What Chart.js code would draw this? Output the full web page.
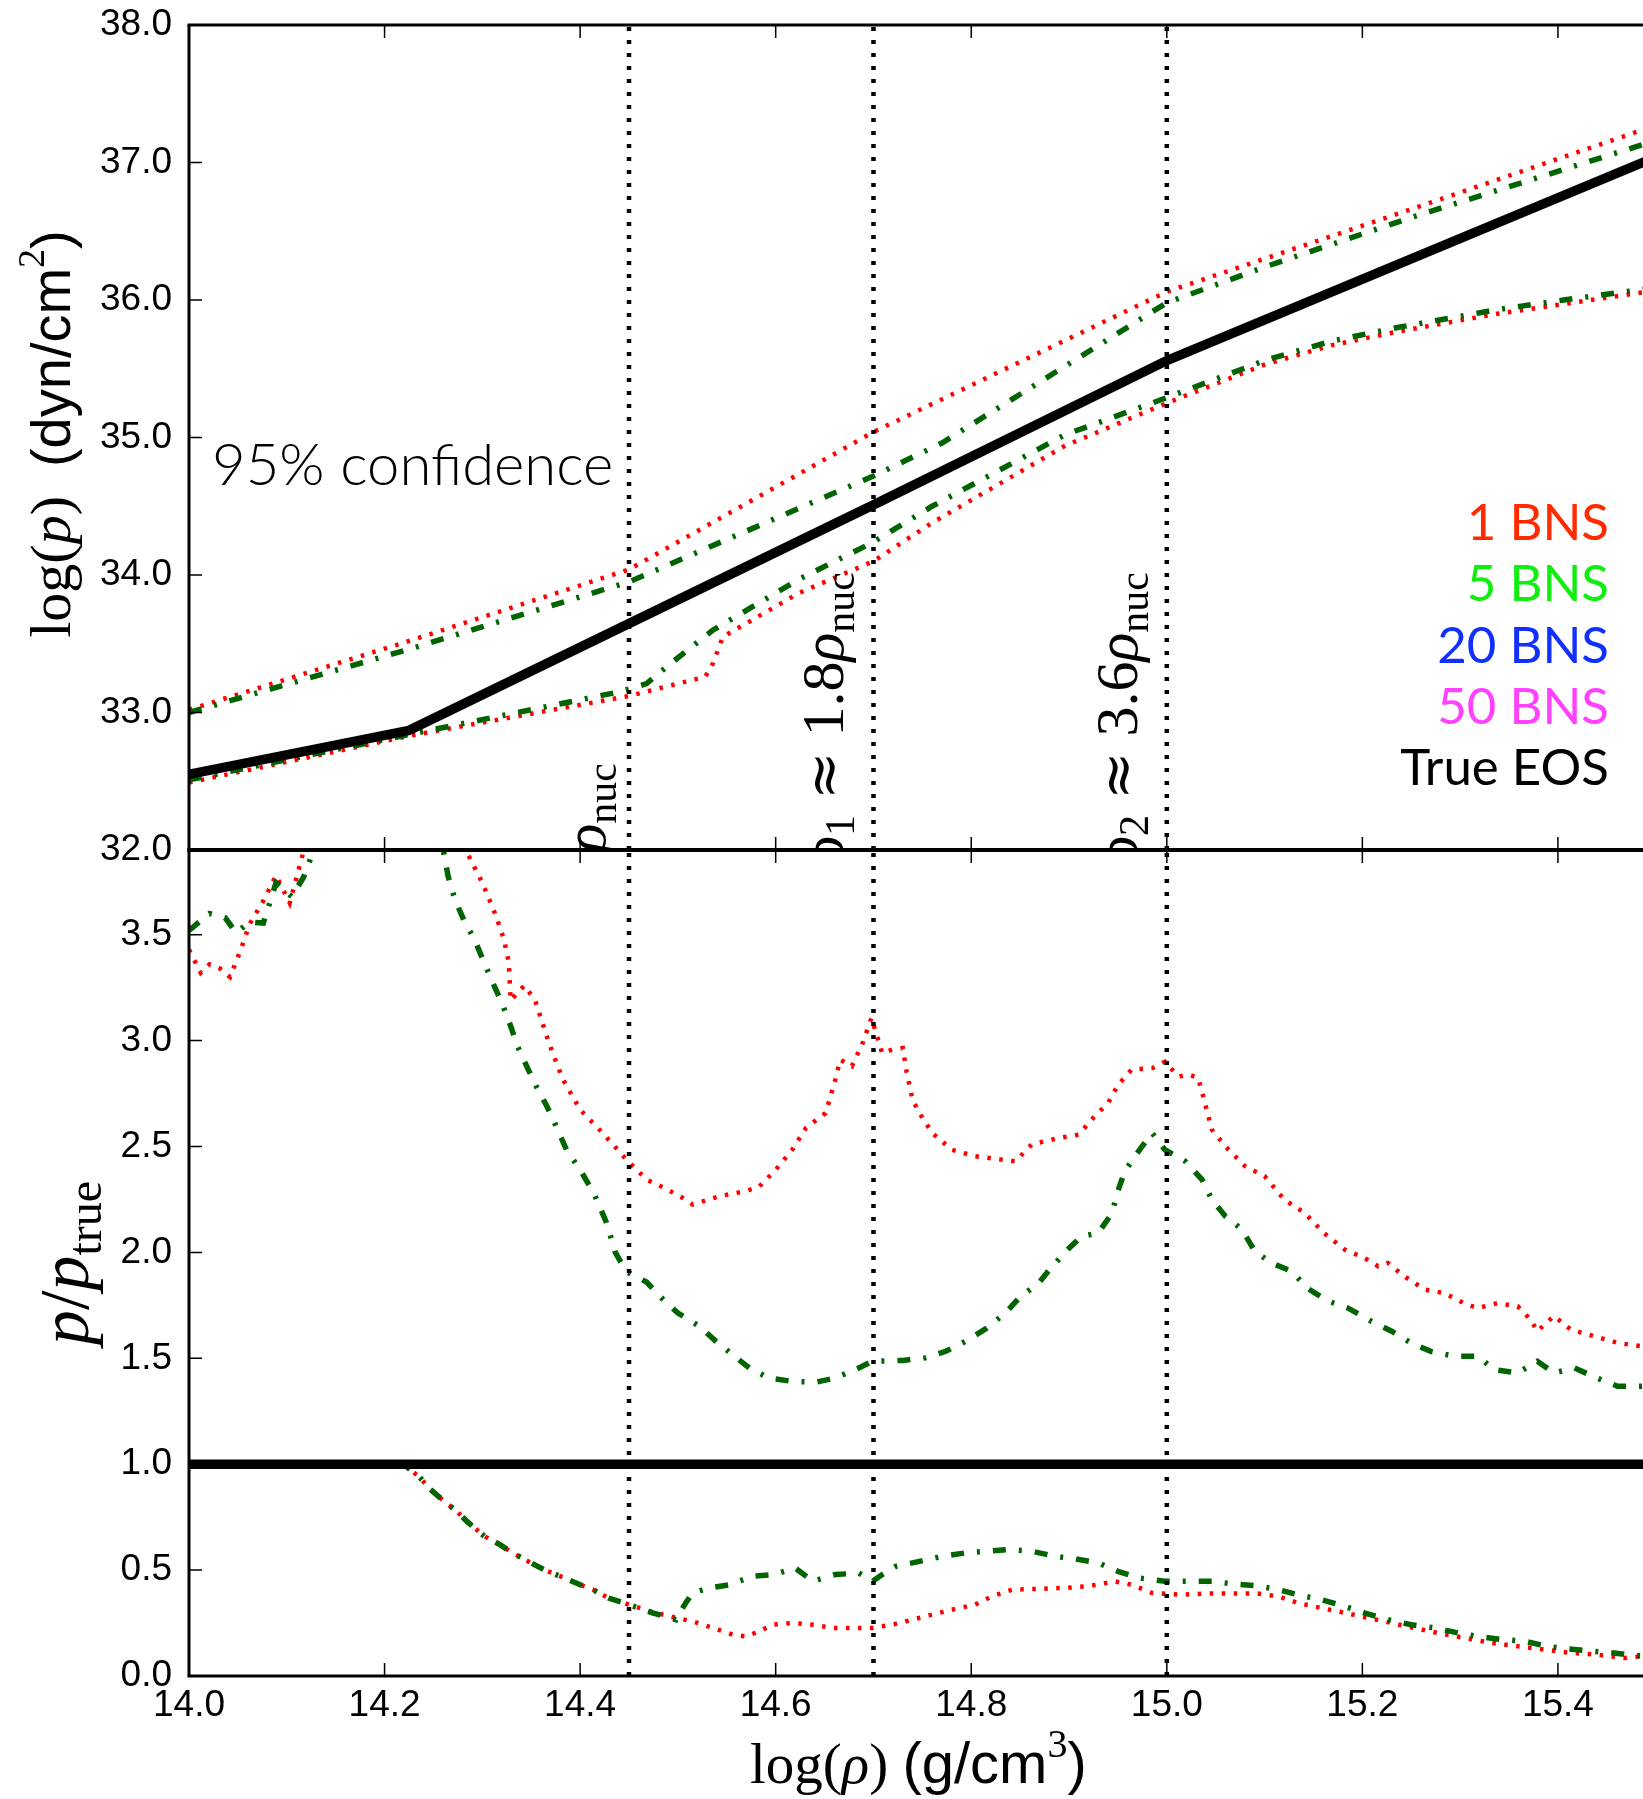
<!DOCTYPE html>
<html>
<head>
<meta charset="utf-8">
<script src="https://cdn.jsdelivr.net/npm/chart.js@4.4.1/dist/chart.umd.min.js"></script>
<style>
  html, body { margin: 0; padding: 0; background: #fff; overflow: hidden; }
  #wrap { position: relative; width: 1643px; height: 1799px; }
  #wrap canvas { position: absolute; left: 0; top: 0; }
</style>
</head>
<body>
<div id="wrap">
  <canvas id="ratioChart" width="1643" height="1799"></canvas>
  <canvas id="eosChart" width="1643" height="1799"></canvas>
</div>
<script>
// ── Axes ─────────────────────────────────────────────────────────────────────
const X_MIN = 14.0, X_MAX = 15.487;
const X_TICKS     = [14.0, 14.2, 14.4, 14.6, 14.8, 15.0, 15.2, 15.4];
const Y_TOP_MIN = 32, Y_TOP_MAX = 38;
const Y_TICKS_TOP = [32, 33, 34, 35, 36, 37, 38];
const Y_BOT_MIN = 0, Y_BOT_MAX = 3.9;
const Y_TICKS_BOT = [0, 0.5, 1.0, 1.5, 2.0, 2.5, 3.0, 3.5];
const VLINE_RHO   = [14.45, 14.7, 15.0];   // rho_nuc, rho_1, rho_2

// ── Top panel: log(p) ────────────────────────────────────────────────────────
const RHO_EOS  = [14.0, 14.225, 14.7, 15.0, 15.5];
const LOGP_EOS = [32.55, 32.87, 34.51, 35.56, 37.04];

const RHO_HI_1  = [14.0, 14.225, 14.45, 14.7, 15.0, 15.25, 15.5];
const LOGP_HI_1 = [33.02, 33.52, 34.04, 35.04, 36.06, 36.66, 37.27];

const RHO_HI_5  = [14.0, 14.225, 14.45, 14.7, 14.77, 15.0, 15.1, 15.25, 15.5];
const LOGP_HI_5 = [33.0, 33.46, 33.95, 34.72, 34.96, 35.98, 36.24, 36.6, 37.16];

const RHO_LO_1  = [14.0, 14.225, 14.45, 14.528, 14.536, 14.546, 14.624, 14.7, 14.76, 14.828, 14.896, 15.0, 15.1, 15.168, 15.236, 15.338, 15.406, 15.5];
const LOGP_LO_1 = [32.49, 32.83, 33.12, 33.26, 33.36, 33.55, 33.87, 34.1, 34.38, 34.66, 34.94, 35.25, 35.53, 35.67, 35.77, 35.9, 35.97, 36.07];

const RHO_LO_5  = [14.0, 14.225, 14.44, 14.468, 14.488, 14.536, 14.624, 14.7, 14.76, 14.828, 14.896, 15.0, 15.1, 15.168, 15.236, 15.338, 15.406, 15.5];
const LOGP_LO_5 = [32.51, 32.84, 33.15, 33.21, 33.33, 33.6, 33.97, 34.24, 34.5, 34.76, 35.02, 35.29, 35.56, 35.7, 35.8, 35.93, 36.0, 36.09];

// ── Bottom panel: p / p_true ─────────────────────────────────────────────────
const RHO_TRUE   = [14.0, 15.5];
const RATIO_TRUE = [1.0, 1.0];

const RHO_R_HI_1 = [14.0, 14.012, 14.021, 14.032, 14.042, 14.053, 14.062, 14.076, 14.089, 14.103, 14.11, 14.117, 14.13, 14.27, 14.283, 14.3, 14.313, 14.322, 14.327, 14.329, 14.343, 14.354, 14.368, 14.382, 14.4, 14.423, 14.447, 14.468, 14.488, 14.505, 14.515, 14.542, 14.57, 14.583, 14.6, 14.617, 14.631, 14.651, 14.655, 14.661, 14.666, 14.678, 14.689, 14.698, 14.709, 14.719, 14.73, 14.734, 14.74, 14.747, 14.76, 14.78, 14.804, 14.828, 14.845, 14.862, 14.889, 14.91, 14.923, 14.94, 14.95, 14.964, 14.985, 14.998, 15.012, 15.022, 15.032, 15.039, 15.046, 15.06, 15.08, 15.1, 15.12, 15.141, 15.161, 15.182, 15.202, 15.216, 15.226, 15.243, 15.264, 15.284, 15.304, 15.318, 15.338, 15.359, 15.372, 15.379, 15.396, 15.413, 15.44, 15.462, 15.485, 15.5];
const RATIO_HI_1 = [3.43, 3.32, 3.36, 3.34, 3.30, 3.43, 3.55, 3.66, 3.78, 3.65, 3.77, 3.89, 4.1, 4.1, 3.9, 3.745, 3.6, 3.48, 3.37, 3.19, 3.26, 3.19, 2.99, 2.82, 2.674, 2.564, 2.44, 2.344, 2.3, 2.257, 2.226, 2.265, 2.29, 2.31, 2.39, 2.485, 2.588, 2.658, 2.72, 2.816, 2.91, 2.88, 2.989, 3.107, 2.94, 2.957, 2.965, 2.85, 2.72, 2.658, 2.564, 2.485, 2.454, 2.44, 2.43, 2.51, 2.54, 2.556, 2.627, 2.706, 2.79, 2.863, 2.87, 2.9, 2.83, 2.84, 2.824, 2.706, 2.58, 2.5, 2.407, 2.36, 2.25, 2.186, 2.09, 2.013, 1.974, 1.935, 1.95, 1.887, 1.824, 1.808, 1.76, 1.737, 1.76, 1.745, 1.683, 1.628, 1.7, 1.636, 1.6, 1.572, 1.557, 1.55];

const RHO_R_HI_5 = [14.0, 14.021, 14.037, 14.048, 14.062, 14.076, 14.089, 14.105, 14.117, 14.126, 14.14, 14.25, 14.26, 14.265, 14.272, 14.281, 14.292, 14.302, 14.311, 14.32, 14.329, 14.336, 14.347, 14.356, 14.366, 14.377, 14.386, 14.4, 14.414, 14.427, 14.436, 14.447, 14.468, 14.485, 14.5, 14.522, 14.539, 14.556, 14.573, 14.593, 14.617, 14.641, 14.661, 14.685, 14.699, 14.73, 14.753, 14.774, 14.794, 14.815, 14.835, 14.849, 14.869, 14.883, 14.9, 14.913, 14.93, 14.944, 14.95, 14.957, 14.971, 14.985, 14.998, 15.019, 15.036, 15.046, 15.06, 15.077, 15.09, 15.107, 15.128, 15.144, 15.165, 15.185, 15.209, 15.23, 15.25, 15.27, 15.294, 15.318, 15.335, 15.359, 15.379, 15.396, 15.417, 15.44, 15.461, 15.485, 15.5];
const RATIO_HI_5 = [3.52, 3.6, 3.58, 3.51, 3.56, 3.555, 3.745, 3.68, 3.77, 3.88, 4.1, 4.1, 3.9, 3.776, 3.666, 3.57, 3.477, 3.367, 3.27, 3.178, 3.068, 2.973, 2.863, 2.776, 2.69, 2.58, 2.485, 2.39, 2.28, 2.14, 2.0, 1.91, 1.86, 1.777, 1.714, 1.651, 1.58, 1.517, 1.454, 1.407, 1.391, 1.387, 1.407, 1.454, 1.486, 1.49, 1.502, 1.533, 1.58, 1.64, 1.714, 1.785, 1.856, 1.935, 2.02, 2.076, 2.092, 2.186, 2.29, 2.383, 2.477, 2.564, 2.485, 2.43, 2.344, 2.25, 2.17, 2.108, 2.005, 1.95, 1.91, 1.83, 1.77, 1.738, 1.675, 1.628, 1.572, 1.533, 1.51, 1.51, 1.446, 1.431, 1.486, 1.431, 1.454, 1.407, 1.368, 1.368, 1.37];

const RHO_R_LO_1 = [14.0, 14.22, 14.226, 14.235, 14.247, 14.263, 14.272, 14.286, 14.302, 14.318, 14.331, 14.347, 14.363, 14.384, 14.4, 14.413, 14.429, 14.45, 14.471, 14.491, 14.515, 14.536, 14.556, 14.57, 14.583, 14.597, 14.617, 14.638, 14.658, 14.679, 14.699, 14.719, 14.74, 14.76, 14.78, 14.804, 14.821, 14.842, 14.869, 14.896, 14.92, 14.947, 14.964, 14.985, 15.012, 15.039, 15.066, 15.093, 15.114, 15.134, 15.158, 15.182, 15.206, 15.23, 15.253, 15.277, 15.304, 15.332, 15.359, 15.386, 15.413, 15.44, 15.468, 15.485, 15.5];
const RATIO_LO_1 = [1.0, 1.0, 0.974, 0.943, 0.88, 0.817, 0.785, 0.723, 0.66, 0.62, 0.581, 0.541, 0.502, 0.463, 0.431, 0.408, 0.368, 0.337, 0.306, 0.282, 0.258, 0.227, 0.195, 0.187, 0.211, 0.242, 0.25, 0.242, 0.227, 0.227, 0.227, 0.242, 0.266, 0.29, 0.313, 0.337, 0.376, 0.408, 0.411, 0.416, 0.424, 0.447, 0.431, 0.392, 0.384, 0.389, 0.389, 0.389, 0.376, 0.345, 0.321, 0.298, 0.274, 0.25, 0.227, 0.203, 0.18, 0.156, 0.14, 0.125, 0.109, 0.101, 0.085, 0.093, 0.09];

const RHO_R_LO_5 = [14.0, 14.22, 14.226, 14.235, 14.247, 14.263, 14.272, 14.286, 14.302, 14.318, 14.331, 14.347, 14.363, 14.384, 14.4, 14.413, 14.429, 14.45, 14.474, 14.498, 14.508, 14.515, 14.532, 14.553, 14.576, 14.598, 14.62, 14.638, 14.661, 14.685, 14.699, 14.709, 14.723, 14.747, 14.77, 14.794, 14.815, 14.838, 14.862, 14.886, 14.906, 14.93, 14.95, 14.971, 14.998, 15.022, 15.046, 15.066, 15.09, 15.114, 15.134, 15.158, 15.182, 15.202, 15.226, 15.25, 15.274, 15.298, 15.318, 15.342, 15.366, 15.389, 15.41, 15.434, 15.457, 15.481, 15.5];
const RATIO_LO_5 = [1.0, 1.0, 0.974, 0.943, 0.88, 0.817, 0.785, 0.723, 0.66, 0.62, 0.581, 0.541, 0.502, 0.463, 0.431, 0.408, 0.368, 0.337, 0.298, 0.266, 0.345, 0.392, 0.416, 0.431, 0.471, 0.479, 0.51, 0.447, 0.479, 0.486, 0.447, 0.479, 0.518, 0.541, 0.565, 0.581, 0.589, 0.597, 0.589, 0.565, 0.553, 0.534, 0.494, 0.463, 0.447, 0.447, 0.447, 0.436, 0.427, 0.408, 0.384, 0.36, 0.329, 0.298, 0.266, 0.242, 0.227, 0.203, 0.187, 0.172, 0.164, 0.14, 0.128, 0.117, 0.109, 0.096, 0.095];

// ── Legend ───────────────────────────────────────────────────────────────────
const LEGEND_LABELS = ['1 BNS', '5 BNS', '20 BNS', '50 BNS', 'True EOS'];
const LEGEND_COLORS = ['#ff2a00', '#10ee10', '#1030ff', '#ff40ff', '#000000'];

// ── Helpers ──────────────────────────────────────────────────────────────────
const SERIF = '"Liberation Serif", "DejaVu Serif", serif';
const SANS  = '"Liberation Sans", Arial, sans-serif';
const RED = '#ff0000', GREEN = '#006400';
const TICK_LEN = 13;

const pts = (xs, ys) => xs.map((x, i) => ({ x, y: ys[i] }));

function line(data, color, width, dash) {
  return {
    data, borderColor: color, borderWidth: width, borderDash: dash,
    borderCapStyle: 'butt', pointRadius: 0, tension: 0, fill: false, clip: 0,
  };
}

function vlines(yMin, yMax) {
  return VLINE_RHO.map(v => line(pts([v, v], [yMin, yMax]), '#000', 4.5, [4, 9]));
}

// draw a run of text pieces with their own fonts along one baseline
function rich(ctx, parts, x, y, rot = 0, align = 'left') {
  ctx.save();
  ctx.translate(x, y);
  ctx.rotate(rot);
  ctx.textBaseline = 'alphabetic';
  ctx.textAlign = 'left';
  let w = 0;
  parts.forEach(p => { ctx.font = p.f; p.w = ctx.measureText(p.t).width + (p.gap || 0); w += p.w; });
  let cx = align === 'right' ? -w : align === 'center' ? -w / 2 : 0;
  parts.forEach(p => {
    ctx.font = p.f;
    ctx.fillStyle = p.c || '#000';
    ctx.fillText(p.t, cx + (p.gap || 0) / 2, p.dy || 0);
    cx += p.w;
  });
  ctx.restore();
}

const serif  = (t, s, dy) => ({ t, f: `${s}px ${SERIF}`, dy });
const iserif = (t, s, dy) => ({ t, f: `italic ${s}px ${SERIF}`, dy });
const sans   = (t, s, dy) => ({ t, f: `${s}px ${SANS}`, dy });
const approx = s => ({ t: '≈', f: `${s}px "DejaVu Serif", serif`, gap: 30 });

// spines + inward ticks, matplotlib style
function framePlugin(topW, bottomW) {
  return {
    id: 'frame',
    afterDatasetsDraw(chart) {
      const { ctx, chartArea: a, scales: { x, y } } = chart;
      ctx.save();
      ctx.strokeStyle = '#000';
      ctx.lineWidth = 1.5;
      ctx.beginPath();
      x.ticks.forEach(t => {
        const px = x.getPixelForValue(t.value);
        ctx.moveTo(px, a.top);    ctx.lineTo(px, a.top + TICK_LEN);
        ctx.moveTo(px, a.bottom); ctx.lineTo(px, a.bottom - TICK_LEN);
      });
      y.ticks.forEach(t => {
        const py = y.getPixelForValue(t.value);
        ctx.moveTo(a.left, py); ctx.lineTo(a.left + TICK_LEN, py);
      });
      ctx.stroke();

      ctx.lineWidth = topW;
      ctx.beginPath(); ctx.moveTo(a.left - 1.5, a.top); ctx.lineTo(a.right, a.top); ctx.stroke();
      ctx.lineWidth = bottomW;
      ctx.beginPath(); ctx.moveTo(a.left - 1.5, a.bottom); ctx.lineTo(a.right, a.bottom); ctx.stroke();
      ctx.lineWidth = 3;
      ctx.beginPath(); ctx.moveTo(a.left, a.top); ctx.lineTo(a.left, a.bottom); ctx.stroke();
      ctx.restore();
    },
  };
}

function axisOptions(yMin, yMax, yTicks, xHeight) {
  const tickFont = { family: SANS, size: 37, lineHeight: 1.2 };
  return {
    x: {
      type: 'linear', min: X_MIN, max: X_MAX,
      afterBuildTicks: s => { s.ticks = X_TICKS.map(value => ({ value })); },
      ticks: { display: xHeight > 0, font: tickFont, color: '#000', padding: 8, maxRotation: 0,
               callback: v => v.toFixed(1) },
      grid: { display: false, drawTicks: false },
      border: { display: false },
      afterFit: s => { s.height = xHeight; s.paddingLeft = 0; s.paddingRight = 0; },
    },
    y: {
      type: 'linear', min: yMin, max: yMax,
      afterBuildTicks: s => { s.ticks = yTicks.map(value => ({ value })); },
      ticks: { font: tickFont, color: '#000', padding: 17, callback: v => v.toFixed(1) },
      grid: { display: false, drawTicks: false },
      border: { display: false },
      afterFit: s => { s.width = 189; s.paddingTop = 0; s.paddingBottom = 0; },
    },
  };
}

const common = {
  responsive: false,
  animation: false,
  devicePixelRatio: 1,
  plugins: { legend: { display: false }, tooltip: { enabled: false } },
};

// ── Top panel annotations ────────────────────────────────────────────────────
const topText = {
  id: 'topText',
  afterDraw(chart) {
    const { ctx, chartArea: a, scales: { x } } = chart;
    const R = -Math.PI / 2;

    // density markers, clipped to the panel
    ctx.save();
    ctx.beginPath();
    ctx.rect(a.left, a.top, a.right - a.left, a.bottom - a.top);
    ctx.clip();
    const px0 = x.getPixelForValue(VLINE_RHO[0]);
    const px1 = x.getPixelForValue(VLINE_RHO[1]);
    const px2 = x.getPixelForValue(VLINE_RHO[2]);
    rich(ctx, [iserif('ρ', 60), serif('nuc', 42, 11)], px0 - 24, 763, R, 'right');
    rich(ctx, [iserif('ρ', 60), serif('1', 42, 11), approx(58), serif('1.8', 60), iserif('ρ', 60), serif('nuc', 42, 11)],
         px1 - 30, 572, R, 'right');
    rich(ctx, [iserif('ρ', 60), serif('2', 42, 11), approx(58), serif('3.6', 60), iserif('ρ', 60), serif('nuc', 42, 11)],
         px2 - 30, 572, R, 'right');
    ctx.restore();

    ctx.save();
    ctx.fillStyle = '#000';
    ctx.font = `300 58px Lato, "Open Sans", sans-serif`;
    ctx.textBaseline = 'alphabetic';
    ctx.textAlign = 'left';
    ctx.fillText('95% confidence', a.left + 23, 485);

    ctx.font = `51px Lato, "Open Sans", sans-serif`;
    ctx.textAlign = 'right';
    LEGEND_LABELS.forEach((t, i) => {
      ctx.fillStyle = LEGEND_COLORS[i];
      ctx.fillText(t, 1609, 540 + i * 61.3);
    });
    ctx.restore();

    rich(ctx, [serif('log(', 58), iserif('p', 58), serif(')', 58), serif('  ', 58),
               sans('(dyn/cm', 56), serif('2', 38, -26), sans(')', 56)], 70, 434, R, 'center');
  },
};

// ── Bottom panel annotations ─────────────────────────────────────────────────
const bottomText = {
  id: 'bottomText',
  afterDraw(chart) {
    const { ctx } = chart;
    rich(ctx, [iserif('p', 70), serif('/', 70), iserif('p', 70), serif('true', 48, 13)],
         88, 1263, -Math.PI / 2, 'center');
    rich(ctx, [serif('log(', 57), iserif('ρ', 57), serif(')', 57), serif(' ', 57),
               sans('(g/cm', 58), serif('3', 40, -26), sans(')', 58)], 750, 1783);
  },
};

// ── Charts ───────────────────────────────────────────────────────────────────
new Chart(document.getElementById('eosChart').getContext('2d'), {
  type: 'line',
  data: {
    datasets: [
      line(pts(RHO_EOS, LOGP_EOS), '#000', 9.5, []),
      ...vlines(Y_TOP_MIN, Y_TOP_MAX),
      line(pts(RHO_HI_5, LOGP_HI_5), GREEN, 5.5, [13, 13, 3, 13]),
      line(pts(RHO_LO_5, LOGP_LO_5), GREEN, 5.5, [13, 13, 3, 13]),
      line(pts(RHO_HI_1, LOGP_HI_1), RED, 4.5, [3.5, 8.5]),
      line(pts(RHO_LO_1, LOGP_LO_1), RED, 4.5, [3.5, 8.5]),
    ],
  },
  options: {
    ...common,
    layout: { padding: { left: 0, right: 0, top: 25, bottom: 1799 - 850 } },
    scales: axisOptions(Y_TOP_MIN, Y_TOP_MAX, Y_TICKS_TOP, 0),
  },
  plugins: [framePlugin(3, 4), topText],
});

new Chart(document.getElementById('ratioChart').getContext('2d'), {
  type: 'line',
  data: {
    datasets: [
      line(pts(RHO_TRUE, RATIO_TRUE), '#000', 9.5, []),
      ...vlines(Y_BOT_MIN, Y_BOT_MAX),
      line(pts(RHO_R_HI_5, RATIO_HI_5), GREEN, 5.5, [13, 13, 3, 13]),
      line(pts(RHO_R_LO_5, RATIO_LO_5), GREEN, 5.5, [13, 13, 3, 13]),
      line(pts(RHO_R_HI_1, RATIO_HI_1), RED, 4.5, [3.5, 8.5]),
      line(pts(RHO_R_LO_1, RATIO_LO_1), RED, 4.5, [3.5, 8.5]),
    ],
  },
  options: {
    ...common,
    layout: { padding: { left: 0, right: 0, top: 850, bottom: 0 } },
    scales: axisOptions(Y_BOT_MIN, Y_BOT_MAX, Y_TICKS_BOT, 1799 - 1676),
  },
  plugins: [framePlugin(4, 3), bottomText],
});
</script>
</body>
</html>
